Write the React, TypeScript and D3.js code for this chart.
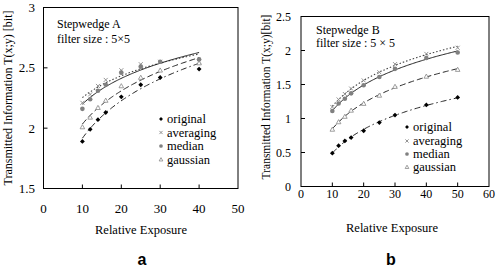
import React from "react";
import * as d3 from "d3";

// ---- data ----
const xsA = [10, 12, 14, 16, 20, 25, 30, 40];
const originalA = [1.89, 1.99, 2.07, 2.13, 2.26, 2.36, 2.42, 2.49];
const averagingA = [2.21, 2.28, 2.35, 2.4, 2.48, 2.53, 2.55, 2.55];
const medianA = [2.16, 2.24, 2.31, 2.36, 2.46, 2.51, 2.55, 2.57];
const gaussianA = [2.01, 2.09, 2.17, 2.23, 2.35, 2.42, 2.48, 2.54];

const xsB = [10, 12, 14, 16, 20, 25, 30, 40, 50];
const originalB = [0.49, 0.6, 0.67, 0.72, 0.82, 0.94, 1.05, 1.2, 1.31];
const averagingB = [1.17, 1.28, 1.36, 1.44, 1.56, 1.68, 1.8, 1.95, 2.04];
const medianB = [1.11, 1.22, 1.29, 1.37, 1.49, 1.61, 1.73, 1.89, 1.97];
const gaussianB = [0.84, 0.95, 1.03, 1.12, 1.22, 1.34, 1.47, 1.62, 1.72];

const xTicksA = [0, 10, 20, 30, 40, 50];
const yTicksA = [1.5, 2, 2.5, 3];
const xTicksB = [0, 10, 20, 30, 40, 50, 60];
const yTicksB = [0, 0.5, 1, 1.5, 2, 2.5];
const legendNames = ["original", "averaging", "median", "gaussian"];

const SERIF = "Liberation Serif";
const SANS = "Liberation Sans";

function logFit(xs: number[], ys: number[]) {
  const lx = xs.map(Math.log);
  const mx = d3.mean(lx)!;
  const my = d3.mean(ys)!;
  let num = 0, den = 0;
  lx.forEach((v, i) => { num += (v - mx) * (ys[i] - my); den += (v - mx) * (v - mx); });
  const b = num / den;
  const a = my - b * mx;
  return (x: number) => a + b * Math.log(x);
}

type Kind = "original" | "averaging" | "median" | "gaussian";

function Marker({ kind, x, y, small }: { kind: Kind; x: number; y: number; small?: boolean }) {
  const k = small ? 0.8 : 1;
  if (kind === "original") {
    const s = 2.4 * k;
    return <path d={`M${x},${y - s}L${x + s},${y}L${x},${y + s}L${x - s},${y}Z`} fill="#000" />;
  }
  if (kind === "averaging") {
    const s = 2 * k;
    return (
      <path d={`M${x - s},${y - s}L${x + s},${y + s}M${x - s},${y + s}L${x + s},${y - s}`} stroke="#888" strokeWidth={0.9} fill="none" />
    );
  }
  if (kind === "median") {
    return <circle cx={x} cy={y} r={2.3 * k} fill="#808080" />;
  }
  const s = 2.3 * k;
  return (
    <path d={`M${x},${y - s}L${x + s},${y + s * 0.8}L${x - s},${y + s * 0.8}Z`} fill="#fff" stroke="#888" strokeWidth={0.8} />
  );
}

const lineStyle: Record<Kind, { dash: string; color: string; w: number }> = {
  original: { dash: "6,3,1.5,3", color: "#222", w: 1 },
  averaging: { dash: "1.5,2", color: "#444", w: 1.1 },
  median: { dash: "", color: "#222", w: 1 },
  gaussian: { dash: "6,3", color: "#222", w: 1 },
};

interface PanelProps {
  xs: number[];
  series: Record<Kind, number[]>;
  xDomain: [number, number];
  yDomain: [number, number];
  xRange: [number, number];
  yRange: [number, number];
  xTicks: number[];
  yTicks: number[];
  yFmt: (v: number) => string;
  xLabelY: number;
  yLabelX: number;
  titleLines: string[];
  titleX: number;
  titleY: number[];
  legendX: number;
  legendY: number[];
  yTitle: string;
  yTitleX: number;
  yTitleY: number;
  yTitleSize: number;
  xTitleX: number;
  xTitleY: number;
  letter: string;
  letterX: number;
  letterY: number;
  fontSize: number;
}

function Panel(p: PanelProps) {
  const x = d3.scaleLinear().domain(p.xDomain).range(p.xRange);
  const y = d3.scaleLinear().domain(p.yDomain).range(p.yRange);
  const kinds: Kind[] = ["original", "averaging", "median", "gaussian"];
  const xmin = d3.min(p.xs)!;
  const xmax = d3.max(p.xs)!;
  const samples = d3.range(0, 101).map((i) => xmin + ((xmax - xmin) * i) / 100);
  const line = d3.line<[number, number]>().x((d) => x(d[0])).y((d) => y(d[1]));
  const [x0, x1] = p.xRange;
  const [yb, yt] = p.yRange;
  const serif = { fontFamily: SERIF };
  return (
    <g>
      <rect x={x0} y={yt} width={x1 - x0} height={yb - yt} fill="none" stroke="#000" strokeWidth={1} />
      {p.yTicks.slice(1, -1).map((t) => (
        <line key={"yt" + t} x1={x0} x2={x0 + 4} y1={y(t)} y2={y(t)} stroke="#000" />
      ))}
      {p.xTicks.slice(1, -1).map((t) => (
        <line key={"xt" + t} x1={x(t)} x2={x(t)} y1={yb} y2={yb - 4} stroke="#000" />
      ))}
      {p.yTicks.map((t) => (
        <text key={"yl" + t} x={p.yLabelX} y={y(t) + 4.5} textAnchor="end" style={serif} fontSize={p.fontSize}>
          {p.yFmt(t)}
        </text>
      ))}
      {p.xTicks.map((t) => (
        <text key={"xl" + t} x={x(t)} y={p.xLabelY} textAnchor="middle" style={serif} fontSize={p.fontSize}>
          {t}
        </text>
      ))}
      {kinds.map((k) => {
        const f = logFit(p.xs, p.series[k]);
        const st = lineStyle[k];
        return (
          <path key={"l" + k} d={line(samples.map((s) => [s, f(s)]))!} fill="none" stroke={st.color} strokeWidth={st.w} strokeDasharray={st.dash} />
        );
      })}
      {kinds.map((k) =>
        p.series[k].map((v, i) => <Marker key={k + i} kind={k} x={x(p.xs[i])} y={y(v)} />)
      )}
      {p.titleLines.map((t, i) => (
        <text key={"t" + i} x={p.titleX} y={p.titleY[i]} style={serif} fontSize={12}>
          {t}
        </text>
      ))}
      {kinds.map((k, i) => (
        <g key={"lg" + k}>
          <Marker kind={k} x={p.legendX} y={p.legendY[i]} small />
          <text x={p.legendX + 6} y={p.legendY[i] + 4} style={serif} fontSize={12.5}>
            {legendNames[i]}
          </text>
        </g>
      ))}
      <text
        transform={`translate(${p.yTitleX},${p.yTitleY}) rotate(-90)`}
        textAnchor="middle"
        style={serif}
        fontSize={p.yTitleSize}
      >
        {p.yTitle}
      </text>
      <text x={p.xTitleX} y={p.xTitleY} textAnchor="middle" style={serif} fontSize={12.5}>
        Relative Exposure
      </text>
      <text x={p.letterX} y={p.letterY} textAnchor="middle" style={{ fontFamily: SANS }} fontWeight="bold" fontSize={16}>
        {p.letter}
      </text>
    </g>
  );
}

export default function App() {
  return (
    <svg width={496} height={268} style={{ position: "absolute", left: 0, top: 0, background: "#fff" }}>
      <Panel
        xs={xsA}
        series={{ original: originalA, averaging: averagingA, median: medianA, gaussian: gaussianA }}
        xDomain={[0, 50]}
        yDomain={[1.5, 3]}
        xRange={[43.5, 238]}
        yRange={[188.5, 7.5]}
        xTicks={xTicksA}
        yTicks={yTicksA}
        yFmt={(v) => (v === 2 || v === 3 ? String(v) : v.toFixed(1))}
        xLabelY={213}
        yLabelX={35}
        titleLines={["Stepwedge A", "filter size : 5×5"]}
        titleX={57}
        titleY={[28, 43]}
        legendX={161}
        legendY={[119, 132.5, 146, 159.5]}
        yTitle="Transmitted Information T(x;y) [bit]"
        yTitleX={12}
        yTitleY={98}
        yTitleSize={12}
        xTitleX={141}
        xTitleY={234}
        letter="a"
        letterX={142}
        letterY={265}
        fontSize={13}
      />
      <Panel
        xs={xsB}
        series={{ original: originalB, averaging: averagingB, median: medianB, gaussian: gaussianB }}
        xDomain={[0, 60]}
        yDomain={[0, 2.5]}
        xRange={[301, 489]}
        yRange={[186.5, 16.5]}
        xTicks={xTicksB}
        yTicks={yTicksB}
        yFmt={(v) => (Number.isInteger(v) ? String(v) : v.toFixed(1))}
        xLabelY={198}
        yLabelX={291}
        titleLines={["Stepwedge B", "filter size : 5 × 5"]}
        titleX={316}
        titleY={[34, 47]}
        legendX={407}
        legendY={[127, 141, 154, 167]}
        yTitle="Transmitted Information T(x;y)[bit]"
        yTitleX={270}
        yTitleY={97}
        yTitleSize={11.5}
        xTitleX={392}
        xTitleY={232}
        letter="b"
        letterX={391}
        letterY={265}
        fontSize={12}
      />
    </svg>
  );
}
